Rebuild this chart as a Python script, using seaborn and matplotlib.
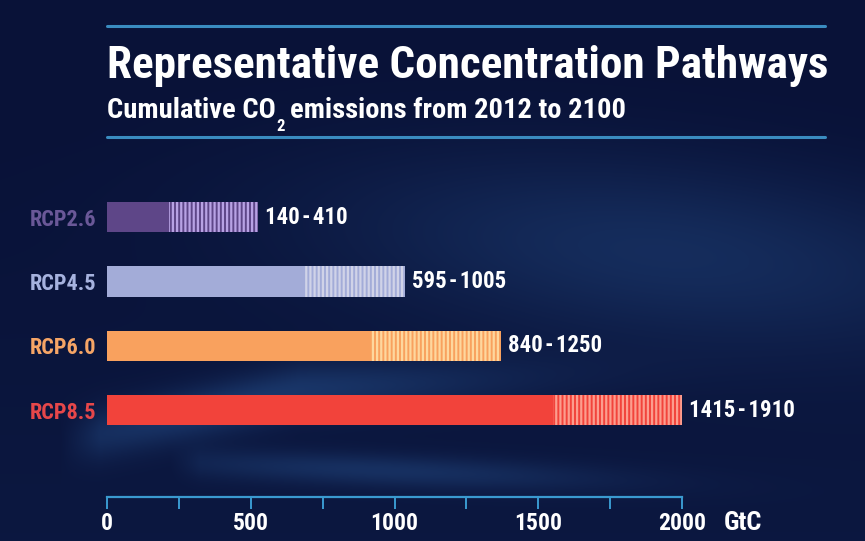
import numpy as np
import pandas as pd
import matplotlib
matplotlib.use('Agg')
import matplotlib.pyplot as plt
from matplotlib.lines import Line2D
import seaborn as sns

# ---- data ----
pathways = ['RCP2.6', 'RCP4.5', 'RCP6.0', 'RCP8.5']
solid_end = [215, 685, 915, 1550]      # solid part of each bar (as drawn)
bar_end = [525, 1035, 1370, 2000]      # full bar incl. striped range (as drawn)
range_labels = ['140\u200a-\u200a410', '595\u200a-\u200a1005',
                '840\u200a-\u200a1250', '1415\u200a-\u200a1910']
major_ticks = [0, 500, 1000, 1500, 2000]
minor_ticks = [250, 750, 1250, 1750]
unit_label = 'GtC'
title = 'Representative Concentration Pathways'
subtitle_parts = ['Cumulative CO', '2', 'emissions from 2012 to 2100']

base_colors = ['#5e4688', '#a3acd8', '#f9a15e', '#f2433b']
stripe_colors = ['#b8a2e4', '#d0d3e8', '#fed79e', '#fc9d8e']
label_colors = ['#6a5898', '#a6b2de', '#f6a566', '#e6474a']
axis_color = '#3a9ad0'

sns.set_theme(style='white')
FONT = ['Roboto Condensed', 'Liberation Sans Narrow', 'DejaVu Sans']
plt.rcParams['font.family'] = FONT
plt.rcParams['hatch.linewidth'] = 1.6

W, H = 865, 541
fig = plt.figure(figsize=(W / 100, H / 100), dpi=100)

# ---- background ----
bg = fig.add_axes([0, 0, 1, 1])
bg.axis('off')
yy, xx = np.mgrid[0:H, 0:W].astype(float)
base = np.array([9, 18, 56], float) / 255
glow = np.array([32, 68, 124], float) / 255
img = np.ones((H, W, 3)) * base
u = (xx - 660) * 0.95 + (yy - 250) * 0.3
v = (yy - 250) - (xx - 660) * 0.12
g1 = np.exp(-(u / 320) ** 2 - (v / 90) ** 2) * 0.5
# lower-left light wedges
cA = 440 - (xx - 70) * 0.22 + np.clip(xx - 300, 0, None) * 0.17
vA = yy - cA
gA = np.exp(-(vA / 26) ** 2) * np.clip((xx - 60) / 40, 0, 1) * np.exp(-((xx - 250) / 260) ** 2) * 0.65
cB = 462 + (xx - 180) * 0.04
vB = yy - cB
gB = np.exp(-(vB / 16) ** 2) * np.clip((xx - 170) / 30, 0, 1) * np.exp(-((xx - 380) / 230) ** 2) * 0.5
g4 = np.clip((yy - 140) / 400, 0, 1) * 0.12
g = np.clip(g1 + gA + gB + g4, 0, 1)[..., None]
img = img * (1 - g) + glow * g
bg.imshow(img, extent=[0, 1, 0, 1], aspect='auto', zorder=0)
bg.set_xlim(0, 1)
bg.set_ylim(0, 1)

# ---- bars ----
df = pd.DataFrame({'pathway': pathways, 'end': bar_end, 'solid': solid_end})

top_px, bot_px = 153, 497
ax = fig.add_axes([107 / W, 1 - bot_px / H, 575 / W, (bot_px - top_px) / H])
ax.patch.set_alpha(0)

sns.barplot(data=df, x='end', y='pathway', hue='pathway', palette=base_colors,
            orient='h', width=0.47, legend=False, saturation=1, ax=ax)
n_first = len(ax.patches)
for p, c in zip(ax.patches, stripe_colors):
    p.set_hatch('||||')
    p.set_edgecolor(c)
    p.set_linewidth(0)
sns.barplot(data=df, x='solid', y='pathway', hue='pathway', palette=base_colors,
            orient='h', width=0.47, legend=False, saturation=1, ax=ax)
for p in ax.patches[n_first:]:
    p.set_linewidth(0)

ax.set_xlim(0, 2000)
ax.set_ylim(4.352, -1.0)

for i, (e, lab) in enumerate(zip(bar_end, range_labels)):
    ax.annotate(lab, xy=(e, i), xytext=(5, 0), textcoords='offset points',
                va='center', ha='left', color='white', fontsize=16.5,
                fontweight='bold', family=FONT)

for s in ['top', 'right', 'left']:
    ax.spines[s].set_visible(False)
ax.spines['bottom'].set_color(axis_color)
ax.spines['bottom'].set_linewidth(1.6)
ax.set_xticks(major_ticks)
ax.set_xticks(minor_ticks, minor=True)
ax.set_xticklabels([str(t) for t in major_ticks])
ax.tick_params(axis='x', which='both', direction='out', length=8.5, width=1.4,
               color=axis_color, bottom=True)
ax.tick_params(axis='x', which='major', labelcolor='white', labelsize=17, pad=2)
for t in ax.get_xticklabels():
    t.set_fontweight('bold')
ax.set_yticks(range(len(pathways)))
ax.set_yticklabels(pathways)
ax.tick_params(axis='y', length=0, pad=8, labelsize=16)
for t, c in zip(ax.get_yticklabels(), label_colors):
    t.set_color(c)
    t.set_fontweight('bold')
ax.set_xlabel('')
ax.set_ylabel('')
ax.grid(False)

fig.text(724 / W, 1 - 530 / H, unit_label, color='white', fontsize=19,
         fontweight='bold', va='baseline', ha='left')

# ---- header ----
fig.text(107 / W, 1 - 78 / H, title, color='white', fontsize=32.5,
         fontweight='bold', va='baseline', ha='left')
y_sub = 1 - 118 / H
t1 = fig.text(107 / W, y_sub, subtitle_parts[0], color='white', fontsize=20.5,
              fontweight='bold', va='baseline', ha='left')
fig.canvas.draw()
r = fig.canvas.get_renderer()
bb1 = t1.get_window_extent(r)
t2 = fig.text((bb1.x1 + 1) / W, y_sub - 13 / H, subtitle_parts[1], color='white',
              fontsize=12, fontweight='bold', va='baseline', ha='left')
bb2 = t2.get_window_extent(r)
fig.text((bb2.x1 + 5) / W, y_sub, subtitle_parts[2], color='white', fontsize=20.5,
         fontweight='bold', va='baseline', ha='left')
for ypx in (26, 137):
    fig.add_artist(Line2D([107 / W, 825 / W], [1 - ypx / H] * 2,
                          color='#3a8cc0', lw=2.2))

fig.savefig('out.png', dpi=100)
